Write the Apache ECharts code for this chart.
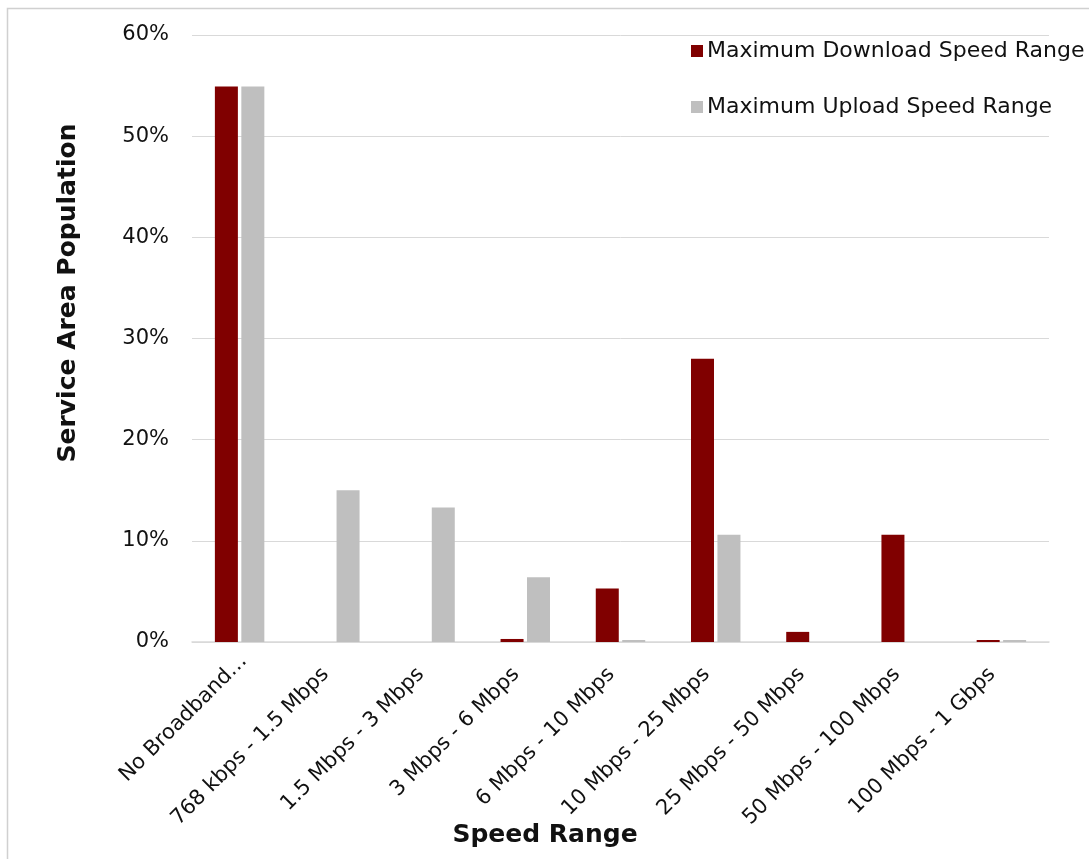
<!DOCTYPE html>
<html>
<head>
<meta charset="utf-8">
<script src="https://cdn.jsdelivr.net/npm/echarts@6/dist/echarts.min.js"></script>
<style>
  html, body { margin: 0; padding: 0; background: #fff; }
  #chart { width: 1089px; height: 859px; }
</style>
</head>
<body>
<div id="chart"></div>
<script>
// Speed ranges along the category axis
const categories = [
  'No Broadband…', '768 kbps - 1.5 Mbps', '1.5 Mbps - 3 Mbps', '3 Mbps - 6 Mbps',
  '6 Mbps - 10 Mbps', '10 Mbps - 25 Mbps', '25 Mbps - 50 Mbps', '50 Mbps - 100 Mbps',
  '100 Mbps - 1 Gbps'
];
// Share of service area population (%) per speed range
const downloadShare = [54.9, 0, 0, 0.3, 5.3, 28.0, 1.0, 10.6, 0.2];
const uploadShare   = [54.9, 15.0, 13.3, 6.4, 0.2, 10.6, 0, 0, 0.2];
const seriesNames = ['Maximum Download Speed Range', 'Maximum Upload Speed Range'];
const yTicks = { min: 0, max: 60, interval: 10 };

const font = '"DejaVu Sans", "Liberation Sans", Arial, sans-serif';
const chart = echarts.init(document.getElementById('chart'), null, { renderer: 'canvas' });

// The truncated first label sits a little further right than the rest
const categoryData = categories.map((name, i) =>
  i === 0 ? { value: name, textStyle: { padding: [0, -6, 0, 0] } } : name
);

chart.setOption({
  backgroundColor: '#fff',
  animation: false,
  grid: { left: 192, right: 40, top: 35, bottom: 217, containLabel: false },
  legend: {
    orient: 'vertical',
    left: 686,
    top: 35,
    itemWidth: 12,
    itemHeight: 12,
    itemGap: 34,
    itemStyle: { borderWidth: 0 },
    icon: 'rect',
    textStyle: { fontFamily: font, fontSize: 22, color: '#111', padding: [0, 0, 0, -1] },
    data: seriesNames
  },
  xAxis: {
    type: 'category',
    data: categoryData,
    axisLine: { lineStyle: { color: '#d9d9d9', width: 1.5 } },
    axisTick: { show: false },
    axisLabel: {
      rotate: 45,
      interval: 0,
      margin: 20,
      padding: [0, 13, 0, 0],
      fontFamily: font,
      fontSize: 21,
      color: '#111'
    }
  },
  yAxis: {
    type: 'value',
    min: yTicks.min,
    max: yTicks.max,
    interval: yTicks.interval,
    axisLine: { show: false },
    axisTick: { show: false },
    splitLine: { lineStyle: { color: '#d9d9d9', width: 1 } },
    axisLabel: {
      formatter: '{value}%',
      margin: 23,
      padding: [8, 0, 0, 0],
      fontFamily: font,
      fontSize: 21,
      color: '#111'
    }
  },
  series: [
    {
      name: seriesNames[0],
      type: 'bar',
      data: downloadShare,
      barWidth: 23,
      barGap: '15%',
      itemStyle: { color: '#800000' }
    },
    {
      name: seriesNames[1],
      type: 'bar',
      data: uploadShare,
      barWidth: 23,
      itemStyle: { color: '#bfbfbf' }
    }
  ],
  graphic: [
    {
      type: 'rect',
      silent: true,
      shape: { x: 7.5, y: 8.5, width: 1100, height: 900 },
      style: { fill: 'none', stroke: '#d0d0d0', lineWidth: 1.5 }
    },
    {
      type: 'text',
      x: 68,
      y: 293,
      rotation: Math.PI / 2,
      style: {
        text: 'Service Area Population',
        fontFamily: font,
        fontSize: 25,
        fontWeight: 'bold',
        fill: '#111',
        align: 'center',
        verticalAlign: 'middle'
      }
    },
    {
      type: 'text',
      x: 545,
      y: 835,
      style: {
        text: 'Speed Range',
        fontFamily: font,
        fontSize: 25,
        fontWeight: 'bold',
        fill: '#111',
        align: 'center',
        verticalAlign: 'middle'
      }
    }
  ]
});
</script>
</body>
</html>
